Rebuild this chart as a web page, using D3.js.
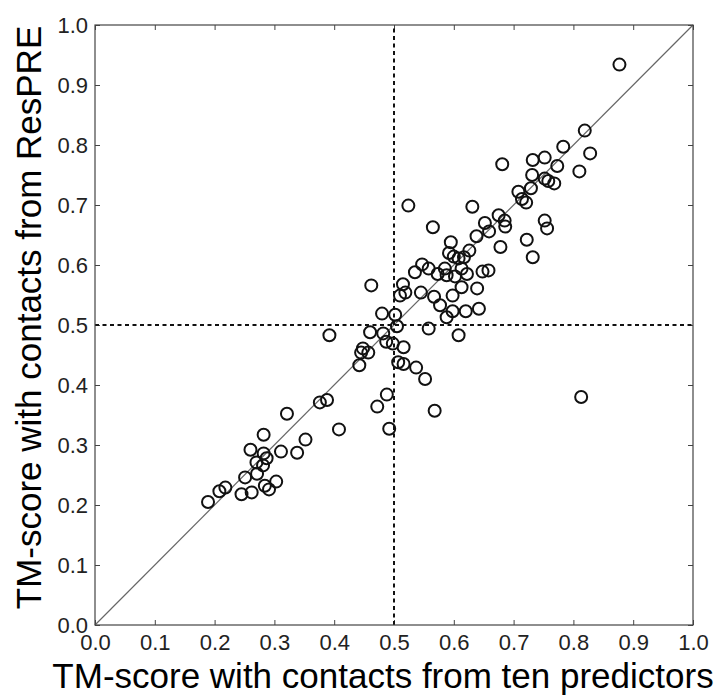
<!DOCTYPE html>
<html><head><meta charset="utf-8">
<script src="https://cdn.jsdelivr.net/npm/d3@7"></script>
<style>body{margin:0;background:#fff}svg{display:block}text{font-family:"Liberation Sans",Arial,sans-serif}</style>
</head><body>
<svg id="c" width="723" height="696"></svg>
<script>
const xVals = [0.877,0.819,0.828,0.783,0.732,0.752,0.681,0.773,0.810,0.731,0.752,0.758,0.768,0.729,0.708,0.714,0.721,0.524,0.631,0.675,0.685,0.686,0.752,0.756,0.565,0.652,0.659,0.638,0.722,0.678,0.595,0.626,0.732,0.592,0.600,0.608,0.617,0.547,0.558,0.535,0.585,0.573,0.588,0.613,0.622,0.602,0.648,0.658,0.462,0.515,0.510,0.519,0.545,0.613,0.639,0.567,0.598,0.577,0.620,0.642,0.598,0.588,0.480,0.502,0.505,0.558,0.608,0.392,0.460,0.482,0.487,0.498,0.516,0.448,0.457,0.445,0.442,0.507,0.516,0.537,0.552,0.813,0.488,0.472,0.568,0.376,0.388,0.408,0.492,0.321,0.282,0.352,0.260,0.311,0.338,0.282,0.287,0.270,0.281,0.271,0.251,0.303,0.284,0.291,0.218,0.208,0.262,0.245,0.189];
const yVals = [0.934,0.824,0.786,0.797,0.775,0.779,0.768,0.765,0.756,0.750,0.744,0.740,0.736,0.728,0.722,0.710,0.704,0.699,0.697,0.683,0.674,0.664,0.674,0.661,0.663,0.670,0.656,0.648,0.642,0.630,0.638,0.624,0.613,0.620,0.614,0.611,0.613,0.601,0.594,0.588,0.594,0.585,0.583,0.594,0.585,0.581,0.589,0.591,0.566,0.568,0.549,0.554,0.554,0.563,0.561,0.547,0.549,0.533,0.523,0.527,0.523,0.513,0.519,0.517,0.498,0.494,0.483,0.483,0.488,0.486,0.472,0.469,0.463,0.461,0.454,0.454,0.433,0.438,0.435,0.429,0.410,0.380,0.384,0.364,0.357,0.371,0.375,0.326,0.327,0.352,0.317,0.309,0.292,0.289,0.287,0.286,0.278,0.271,0.266,0.252,0.246,0.239,0.232,0.226,0.229,0.223,0.221,0.218,0.205];
const tickVals = [0,0.1,0.2,0.3,0.4,0.5,0.6,0.7,0.8,0.9,1.0];
const xTitle = "TM-score with contacts from ten predictors";
const yTitle = "TM-score with contacts from ResPRE";

const svg = d3.select("#c");
const L=95,R=693,T=25,B=625;
const x = d3.scaleLinear().domain([0,1]).range([L,R]);
const y = d3.scaleLinear().domain([0,1]).range([B,T]);
const g = svg.append("g");
const axCol = "#444";
const fmt = d3.format(".1f");

const ax = [
  [d3.axisBottom(x), `translate(0,${B})`, true, 9],
  [d3.axisTop(x), `translate(0,${T})`, false, 0],
  [d3.axisLeft(y), `translate(${L},0)`, true, 7],
  [d3.axisRight(y), `translate(${R},0)`, false, 0]
];
ax.forEach(([a,tr,lab,pad])=>{
  a.tickValues(tickVals).tickSizeInner(-5).tickSizeOuter(0).tickPadding(pad).tickFormat(lab?fmt:()=> "");
  const gg = g.append("g").attr("transform",tr).call(a);
  gg.select(".domain").remove();
  gg.selectAll("line").attr("stroke",axCol).attr("stroke-width",1);
  gg.selectAll("text").attr("fill","#222").style("font-size","22px").style("font-family","Liberation Sans, Arial, sans-serif");
});

g.append("line").attr("x1",x(0)).attr("y1",y(0)).attr("x2",x(1)).attr("y2",y(1))
  .attr("stroke","#666").attr("stroke-width",1.2);
g.append("line").attr("x1",x(0.5)).attr("x2",x(0.5)).attr("y1",y(0)).attr("y2",y(1))
  .attr("stroke","#111").attr("stroke-width",2).attr("stroke-dasharray","4,3.5");
g.append("line").attr("x1",x(0)).attr("x2",x(1)).attr("y1",y(0.5)).attr("y2",y(0.5))
  .attr("stroke","#111").attr("stroke-width",2).attr("stroke-dasharray","4,3.5");

g.selectAll("circle.p").data(xVals.map((v,i)=>[v,yVals[i]])).enter().append("circle")
  .attr("class","p").attr("cx",d=>x(d[0])).attr("cy",d=>y(d[1])).attr("r",6)
  .attr("fill","none").attr("stroke","#111").attr("stroke-width",2);

g.append("rect").attr("x",L).attr("y",T).attr("width",R-L).attr("height",B-T)
  .attr("fill","none").attr("stroke",axCol).attr("stroke-width",1.2);

svg.append("text").attr("x",383).attr("y",688).attr("text-anchor","middle")
  .style("font-size","35px").attr("fill","#000").text(xTitle);
svg.append("text").attr("transform",`translate(41,317.5) rotate(-90)`).attr("text-anchor","middle")
  .style("font-size","35px").attr("fill","#000").text(yTitle);
</script>
</body></html>
